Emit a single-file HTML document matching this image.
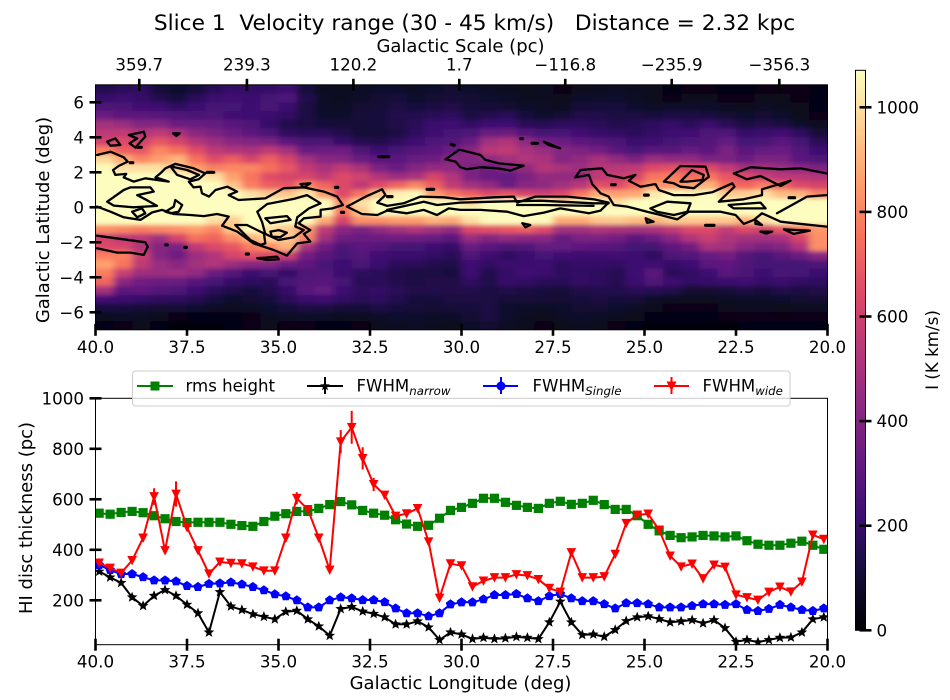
<!DOCTYPE html>
<html lang="en">
<head>
<meta charset="utf-8">
<title>Slice 1 HI chart</title>
<style>
html,body{margin:0;padding:0;background:#fff;}
svg{display:block;}
text{font-family:"DejaVu Sans","Liberation Sans",sans-serif;fill:#000;}
</style>
</head>
<body>
<svg id="chart" xmlns="http://www.w3.org/2000/svg" width="950" height="700" viewBox="0 0 950 700">
  <defs>
    <clipPath id="mapClip"><rect x="95.5" y="84.8" width="732" height="245"/></clipPath>
    <clipPath id="lineClip"><rect x="95.5" y="398.3" width="732" height="246.4"/></clipPath>
    <filter id="smooth" filterUnits="userSpaceOnUse" x="40" y="30" width="850" height="360"><feGaussianBlur stdDeviation="3.6 2.2"/></filter>
    <linearGradient id="cbarGrad" x1="0" y1="1" x2="0" y2="0">
      <stop offset="0" stop-color="#000004"/><stop offset="0.1" stop-color="#140e36"/><stop offset="0.2" stop-color="#3b0f70"/><stop offset="0.3" stop-color="#641a80"/><stop offset="0.4" stop-color="#8c2981"/><stop offset="0.5" stop-color="#b73779"/><stop offset="0.6" stop-color="#de4968"/><stop offset="0.7" stop-color="#f7705c"/><stop offset="0.8" stop-color="#fe9f6d"/><stop offset="0.9" stop-color="#fecf92"/><stop offset="1" stop-color="#fcfdbf"/>
    </linearGradient>
  </defs>
  <text x="474.5" y="30" text-anchor="middle" font-size="21.7" xml:space="preserve">Slice 1  Velocity range (30 - 45 km/s)   Distance = 2.32 kpc</text>
  <text x="460.5" y="52" text-anchor="middle" font-size="18">Galactic Scale (pc)</text>
  <g id="heat" clip-path="url(#mapClip)"><g id="heatCells" filter="url(#smooth)"></g></g>
  <g id="contours" clip-path="url(#mapClip)" fill="none" stroke="#000" stroke-width="2.3" stroke-linejoin="round" stroke-linecap="round"></g>
  <rect x="95.5" y="84.8" width="732" height="245" fill="none" stroke="#000" stroke-width="1"/>
  <g id="mapAxes"></g>
  <text transform="translate(49,220) rotate(-90)" text-anchor="middle" font-size="18">Galactic Latitude (deg)</text>

  <g id="series" clip-path="url(#lineClip)"></g>
  <rect x="95.5" y="398.3" width="732" height="246.4" fill="none" stroke="#000" stroke-width="1"/>
  <g id="lineAxes"></g>
  <text transform="translate(32,518) rotate(-90)" text-anchor="middle" font-size="18">HI disc thickness (pc)</text>
  <text x="460.5" y="689" text-anchor="middle" font-size="18">Galactic Longitude (deg)</text>

  <g>
    <rect x="132.5" y="371" width="657.5" height="35" rx="3" fill="#fff" fill-opacity="0.8" stroke="#ccc" stroke-width="1"/>
    <g>
      <line x1="137" x2="173" y1="386" y2="386" stroke="#008000" stroke-width="2"/>
      <rect x="150.5" y="381.5" width="9" height="9" fill="#008000"/>
      <text x="185.5" y="391.5" font-size="16.6">rms height</text>
    </g>
    <g>
      <line x1="307" x2="343" y1="386" y2="386" stroke="#000" stroke-width="2"/>
      <line x1="325" x2="325" y1="377" y2="394" stroke="#000" stroke-width="2"/>
      <path d="M325 381 L326.3 384.3 L330 384.5 L327 386.8 L328 390.3 L325 388.3 L322 390.3 L323 386.8 L320 384.5 L323.7 384.3 Z" fill="#000"/>
      <text x="356.5" y="391.5" font-size="16.6">FWHM<tspan font-size="11.8" font-style="italic" dy="3.5">narrow</tspan></text>
    </g>
    <g>
      <line x1="483" x2="518" y1="386" y2="386" stroke="#0000ff" stroke-width="2"/>
      <line x1="501" x2="501" y1="377" y2="394" stroke="#0000ff" stroke-width="2"/>
      <circle cx="501" cy="386" r="4.5" fill="#0000ff"/>
      <text x="532.5" y="391.5" font-size="16.6">FWHM<tspan font-size="11.8" font-style="italic" dy="3.5">Single</tspan></text>
    </g>
    <g>
      <line x1="654" x2="689" y1="386" y2="386" stroke="#ff0000" stroke-width="2"/>
      <line x1="671.5" x2="671.5" y1="377" y2="394" stroke="#ff0000" stroke-width="2"/>
      <path d="M666.5 381.5 L676.5 381.5 L671.5 391 Z" fill="#ff0000"/>
      <text x="702.5" y="391.5" font-size="16.6">FWHM<tspan font-size="11.8" font-style="italic" dy="3.5">wide</tspan></text>
    </g>
  </g>

  <rect x="855.5" y="70.3" width="10" height="560" fill="url(#cbarGrad)" stroke="#000" stroke-width="1"/>
  <g id="cbarAxis"></g>
  <text transform="translate(938,350) rotate(-90)" text-anchor="middle" font-size="16.7">I (K km/s)</text>
</svg>

<script>
// ---------- Line plot data ----------
const longitudes = [39.9,39.6,39.3,39.0,38.7,38.4,38.1,37.8,37.5,37.2,36.9,36.6,36.3,36.0,35.7,35.4,35.1,34.8,34.5,34.2,33.9,33.6,33.3,33.0,32.7,32.4,32.1,31.8,31.5,31.2,30.9,30.6,30.3,30.0,29.7,29.4,29.1,28.8,28.5,28.2,27.9,27.6,27.3,27.0,26.7,26.4,26.1,25.8,25.5,25.2,24.9,24.6,24.3,24.0,23.7,23.4,23.1,22.8,22.5,22.2,21.9,21.6,21.3,21.0,20.7,20.4,20.1];
const rmsHeight = [545,541,548,552,547,535,523,512,508,509,509,509,501,496,493,512,533,543,552,552,564,579,591,578,556,545,537,519,502,493,497,525,556,568,584,604,604,588,576,568,564,584,592,580,584,596,579,560,560,535,501,475,457,448,451,457,455,451,455,436,422,418,418,426,434,418,402];
const fwhmNarrow = [314,291,269,212,178,218,241,218,183,149,73,233,176,162,145,135,125,155,159,125,97,60,166,174,156,147,133,105,105,117,93,43,73,65,47,52,47,50,55,52,47,113,195,113,63,65,56,83,118,133,137,126,113,117,122,109,122,90,36,43,34,43,52,53,73,125,133];
const fwhmSingle = [340,320,304,304,292,279,279,275,257,253,265,267,271,263,253,240,224,216,200,172,172,200,212,208,201,201,193,168,149,149,137,149,184,192,192,204,221,221,225,208,197,217,225,208,197,197,185,168,189,189,185,172,172,172,178,185,185,182,185,162,158,166,182,172,162,158,168];
const fwhmWide = [348,328,308,358,447,611,397,621,489,397,305,352,347,345,333,317,317,447,604,560,447,320,828,885,762,659,617,534,543,564,432,209,345,337,254,277,290,290,302,298,283,248,233,389,290,290,294,383,505,538,542,479,376,333,344,286,340,332,222,211,201,233,253,234,273,459,442];
const fwhmWideError = [12,10,8,10,15,33,12,50,14,10,8,8,8,8,8,8,8,15,24,10,12,10,46,65,44,26,15,8,8,10,10,8,8,8,8,8,8,8,8,8,8,8,8,12,8,8,8,8,8,8,10,8,8,8,8,8,8,8,8,8,8,8,8,8,8,12,10];
const xTickValues = [40,37.5,35,32.5,30,27.5,25,22.5,20];
const xTickLabels = ["40.0","37.5","35.0","32.5","30.0","27.5","25.0","22.5","20.0"];
const thicknessTicks = [200,400,600,800,1000];
const latitudeTicks = [6,4,2,0,-2,-4,-6];
const latitudeLabels = ["6","4","2","0","\u22122","\u22124","\u22126"];
const scaleTicks = [359.7,239.3,120.2,1.7,-116.8,-235.9,-356.3];
const scaleLabels = ["359.7","239.3","120.2","1.7","\u2212116.8","\u2212235.9","\u2212356.3"];
const colorTicks = [0,200,400,600,800,1000];

// ---------- Heatmap data (K km/s), rows from b=+6.75 to b=-6.75, columns from l=39.75 to l=20.25 ----------
const Y = 1070;
const heatValues = [
[150,170,180,110,90,120,170,200,190,200,230,120,60,60,70,90,90,70,90,100,90,70,60,50,60,40,50,60,70,60,50,30,40,40,30,30,40,40,40,30],
[200,220,200,150,120,170,210,230,210,240,260,150,70,60,80,100,120,90,100,110,100,90,80,60,60,50,80,80,90,70,50,40,50,50,40,40,50,50,40,30],
[260,250,230,220,180,220,240,240,220,250,210,130,70,70,100,110,130,120,130,140,110,110,100,80,70,60,110,120,120,90,70,80,80,80,60,50,70,60,50,30],
[330,300,300,290,270,250,260,230,220,210,190,130,90,90,110,120,150,150,170,180,130,150,170,120,90,100,140,140,130,130,120,130,130,120,100,90,100,90,50,40],
[480,460,400,400,340,330,320,290,260,200,150,130,120,110,110,120,140,170,210,220,190,220,220,170,160,180,180,170,150,160,180,200,170,210,170,130,140,130,90,60],
[550,560,520,550,500,420,380,340,300,250,180,170,170,140,110,110,130,180,230,240,260,330,340,280,240,240,230,200,190,170,190,220,230,260,260,200,210,230,180,110],
[600,640,600,680,620,530,470,420,400,380,300,250,260,200,160,140,180,220,260,280,340,480,520,430,360,340,300,280,250,210,230,240,260,280,320,240,250,300,240,170],
[780,700,680,800,750,650,550,520,500,560,480,330,340,350,260,220,240,280,300,340,420,540,560,500,460,400,390,360,300,250,290,290,320,300,380,300,320,330,280,220],
[980,880,800,850,900,750,650,700,620,700,620,480,420,400,330,300,300,330,350,420,400,440,480,520,500,400,440,500,440,380,460,440,440,380,380,340,390,380,300,260],
[1060,1000,1000,1000,950,850,780,800,800,750,680,560,500,560,500,380,330,400,450,430,380,350,400,440,530,500,470,530,540,550,640,660,640,640,560,480,480,460,420,380],
[Y,Y,Y,Y,Y,1040,1000,860,760,650,620,620,560,640,600,520,460,500,620,520,380,340,320,380,450,440,440,560,580,620,760,780,740,760,680,640,580,540,540,520],
[Y,Y,Y,Y,Y,Y,Y,940,780,700,680,800,720,640,560,650,720,800,700,560,480,440,340,420,430,480,540,660,640,740,840,820,860,900,740,720,780,720,640,620],
[Y,Y,Y,Y,Y,Y,Y,Y,1000,950,950,1020,850,640,760,950,1040,1060,850,760,700,640,680,620,600,640,760,880,860,880,1020,Y,1040,Y,960,960,1000,920,900,800],
[Y,Y,Y,Y,Y,Y,Y,Y,Y,Y,Y,Y,Y,800,1000,Y,Y,Y,Y,Y,1000,Y,Y,Y,Y,1000,Y,Y,1000,Y,Y,Y,Y,Y,Y,Y,Y,Y,Y,Y],
[Y,Y,Y,Y,Y,Y,Y,Y,Y,Y,Y,Y,Y,750,950,Y,Y,Y,Y,Y,Y,Y,Y,Y,Y,Y,Y,Y,Y,Y,Y,Y,Y,Y,Y,Y,Y,Y,Y,Y],
[Y,Y,Y,Y,Y,Y,1000,960,Y,Y,Y,Y,880,620,820,820,850,850,900,880,1000,Y,Y,Y,Y,880,880,940,950,920,900,950,950,950,950,900,1000,Y,Y,Y],
[820,800,780,800,820,850,800,950,Y,1000,950,850,560,420,380,440,480,520,480,440,640,660,680,700,640,480,480,520,500,480,500,560,640,640,560,640,600,680,760,840],
[600,550,540,480,620,750,720,820,900,980,950,800,480,350,330,340,350,340,320,300,460,400,440,420,420,320,380,380,360,300,340,420,520,580,520,480,480,500,620,820],
[640,620,520,400,380,560,640,680,780,820,900,500,350,260,300,280,240,240,220,200,330,300,260,270,320,320,310,290,280,240,240,310,360,500,480,420,380,400,520,820],
[780,780,580,400,350,470,520,620,660,640,600,360,300,240,280,230,210,210,190,170,260,230,180,210,240,230,220,220,230,220,180,260,280,320,360,280,240,300,340,420],
[860,760,560,460,420,480,520,460,420,400,330,310,240,220,250,210,170,170,150,140,220,190,210,210,220,180,200,200,190,220,230,200,220,300,310,270,240,240,240,260],
[780,580,470,460,470,440,340,280,210,240,200,260,270,210,180,170,140,130,130,120,220,150,200,230,210,180,190,180,160,220,300,170,190,220,290,250,220,250,240,210],
[720,420,350,340,330,280,240,200,180,170,240,280,290,240,170,170,150,130,140,140,180,150,200,190,170,170,190,180,160,210,270,220,190,200,210,230,200,210,190,180],
[480,300,310,280,260,220,170,140,120,150,200,290,320,220,180,190,170,140,150,140,150,130,140,130,120,110,140,150,150,170,160,150,100,100,110,130,120,140,130,140],
[230,210,200,180,180,160,120,90,100,120,170,210,220,190,170,180,150,120,120,130,130,130,110,110,110,100,120,130,120,110,80,60,60,60,70,80,80,90,100,100],
[120,120,110,100,100,90,70,60,70,90,110,130,130,110,110,130,120,110,100,110,120,130,90,80,70,90,100,100,90,70,50,40,40,40,50,60,60,50,60,60],
[60,70,70,50,40,30,30,30,40,60,70,80,70,60,60,80,90,90,80,80,100,130,90,60,50,70,80,70,60,50,30,30,30,30,40,40,40,40,40,40],
[30,40,50,30,20,20,20,30,40,50,40,40,30,30,40,50,60,70,60,50,90,100,70,50,40,50,60,50,40,30,20,20,20,20,20,30,30,30,30,30]
];

// ---------- Contours, flat [lon,lat,...] lists ----------
const contourLines = [
[39.96,2.99,39.59,3.18,39.23,2.86,39.12,2.61,39.37,2.36,39.52,2.13,39.46,1.85,39.16,1.91,39.23,1.71,38.96,1.47,38.64,1.66,38.0,1.47,38.36,1.71,38.23,1.94,38.09,2.23,37.82,2.48,37.32,2.23,37.0,1.94,37.18,1.6,37.45,1.47,37.32,1.14,37.13,1.18,37.09,0.8,36.9,0.61,36.72,0.99,36.4,1.18,36.13,0.9,36.36,0.7,36.09,0.42,35.36,0.51,34.86,1.09,34.31,1.14,34.13,1.37,34.4,1.33,34.31,1.14,33.76,0.9,33.4,0.61,33.24,0.13,33.53,-0.06,33.85,-0.15,33.85,-0.53,34.31,-0.63,34.45,-0.91,34.13,-1.3,34.31,-1.52,34.13,-1.96,34.49,-2.06,34.77,-2.76,35.13,-2.44,35.68,-2.06,36.13,-1.39,36.54,-1.05,36.36,-0.53,36.68,-0.38,37.04,-0.5,37.41,-0.44,37.86,-0.38,38.18,-0.15,38.45,-0.29,38.77,-0.72,39.23,-0.57,39.59,-0.25,39.96,0.04],
[39.68,0.32,39.23,0.99,39.05,1.14,38.5,1.14,38.41,0.9,38.86,0.7,38.64,0.46,38.32,0.08,38.96,0,39.5,0.1,39.68,0.32],
[39.0,-0.25,38.73,-0.06,38.64,-0.34,38.86,-0.57,39.0,-0.25],
[37.95,2.34,37.5,2.13,37.17,1.85,37.41,1.6,37.77,1.85,37.95,2.34],
[38.09,-0.25,37.86,0.04,37.82,0.42,37.63,0.13,37.73,-0.25,37.95,-0.34,38.09,-0.25],
[39.96,-1.62,38.64,-2,38.57,-2.25,38.68,-2.72,39.05,-2.59,39.41,-2.59,39.96,-2.34],
[39.68,3.75,39.46,3.94,39.32,3.56,39.59,3.52,39.68,3.75],
[39.09,4.13,38.68,4.32,38.64,4.04,38.77,3.75,38.91,3.41,39.07,3.66,38.86,3.94,39.09,4.13],
[37.88,4.23,37.7,4.23,37.79,4.08,37.88,4.23],
[35.86,-1.01,35.4,-1.49,35.36,-2.06,35.49,-2.15,35.77,-1.87,35.95,-1.49,36.18,-1.01,35.86,-1.01],
[35.58,-0.25,35.31,0.19,34.58,0.48,34.22,0.7,33.85,0.23,34.17,-0.06,34.49,-0.57,34.54,-1.1,34.31,-1.3,34.58,-1.71,35.0,-1.87,35.36,-1.52,35.45,-0.82,35.58,-0.25],
[35.22,-1.39,34.99,-1.3,34.77,-1.45,34.95,-1.71,35.18,-1.68,35.22,-1.39],
[35.36,-0.63,34.77,-0.5,34.67,-0.72,35.22,-0.91,35.36,-0.63],
[35.58,-2.91,35.36,-2.88,35.04,-2.82,34.99,-2.97,35.31,-3.01,35.58,-2.91],
[33.13,0.04,32.58,0.65,32.17,1.03,32.08,0.7,32.3,0.27,32.03,0.08,31.58,0.23,31.12,0.61,30.48,0.57,30.03,0.46,29.12,0.57,28.57,0.61,28.48,0.27,27.98,0.61,27.11,0.61,26.39,0.46,25.98,0.27,26.2,-0.19,26.52,-0.34,27.3,-0.06,27.75,-0.3,28.3,-0.5,28.75,-0.25,29.48,-0.15,30.03,-0.15,30.35,-0.06,30.67,-0.44,31.03,-0.15,31.49,-0.34,32.03,-0.19,32.3,-0.44,32.72,-0.38,33.13,0.04],
[32.03,-0.15,31.03,0.32,30.67,0.13,30.03,0.27,29.12,0.32,27.84,0.38,26.39,0.23,25.98,0.23],
[28.48,0.13,27.75,0.13,26.39,0.08],
[30.03,3.28,29.48,2.99,29.35,2.71,28.98,2.51,28.3,2.38,28.66,2.1,29.03,2.23,29.48,2.29,29.85,2.17,30.03,2.29,30.16,2.61,30.44,2.74,30.07,3.28,30.03,3.28],
[20.03,1.94,20.74,2.23,21.28,2.17,22.1,2.29,22.56,1.94,22.2,1.6,21.83,1.79,21.28,1.22,21.01,1.52,21.79,1.03,21.79,0.7,22.29,0.46,22.97,0.32,22.54,1.18,22.6,1.37,23.15,0.86,23.65,0.7,24.2,0.7,24.61,0.99,24.7,1.33,25.11,1.18,25.43,1.52,25.25,1.85,25.57,1.66,26.02,1.85,26.16,2.23,26.75,2.13,26.89,1.71,26.52,1.85,26.43,1.33,26.2,0.8,25.98,0.61,25.84,0.13,25.47,0.04,24.93,-0.25,24.56,-0.44,24.11,-0.69,23.79,-0.25,22.92,-0.25,22.51,-0.44,22.29,-0.95,22.01,-0.72,21.79,-0.34,21.28,-0.82,20.92,-0.91,20.03,-1.1],
[24.47,1.47,24.02,2.36,23.33,2.32,23.24,1.75,23.65,1.09,24.02,1.18,24.2,1.37,24.47,1.47],
[24.02,1.47,23.7,2.13,23.38,1.85,23.42,1.56,23.83,1.47,24.02,1.47],
[24.84,-0.06,24.38,0.32,23.74,0.23,23.83,-0.25,24.2,-0.44,24.66,-0.25,24.84,-0.06],
[22.7,0.13,21.83,0.27,21.69,-0.06,22.56,-0.06,22.7,0.13],
[21.38,-0.34,20.92,0.19,20.56,0.61,20.03,0.7],
[21.19,-1.26,20.48,-1.33,20.92,-1.52,21.19,-1.26],
[21.83,-1.39,21.51,-1.39,21.67,-1.5,21.83,-1.39],
[28.34,-0.91,28.12,-1.01,28.25,-1.14,28.34,-0.91],
[24.97,-0.63,24.75,-0.82,24.93,-0.88,24.97,-0.63],
[27.75,3.75,27.3,3.37,27.62,3.56,27.75,3.75],
[21.97,-0.72,21.79,-1.01,21.97,-0.95,21.97,-0.72]
];
const contourBlobs = [
[32.26,2.9,31.99,2.9],[30.94,1.03,30.76,1.03],[33.44,1.14,33.38,1.14],[32.02,0.61,31.9,0.61],[36.95,2.0,36.77,2.0],[30.28,3.6,30.2,3.55],[33.28,-0.29,33.22,-0.29],[38.08,-2.15,38.04,-2.15],[37.56,-2.29,37.52,-2.29],[35.88,-2.67,35.82,-2.67],[28.38,3.92,28.34,3.92],[28.07,3.66,27.93,3.66],[23.33,-1.03,23.1,-1.03],[38.85,3.43,38.75,3.43],[39.05,2.55,38.98,2.55],[25.9,1.3,25.8,1.3],[25.0,0.7,24.9,0.7],[21.05,0.55,20.9,0.55]
];

// ---------- Scales ----------
function xLon(l){ return 95.5 + (40 - l) * 36.6; }
function yLat(b){ return 207.3 - b * 17.5; }
function yVal(v){ return 398.3 + (1000 - v) * 0.2525; }
function xPc(p){ return 139.3 + (359.7 - p) * 0.8939; }
function yCbar(v){ return 630.3 - v * 0.523; }

const NS = 'http://www.w3.org/2000/svg';
function mk(tag, parent, attrs){
  const e = document.createElementNS(NS, tag);
  for (const k in attrs) e.setAttribute(k, attrs[k]);
  parent.appendChild(e);
  return e;
}
const magma = [[0,0,0,4],[.1,20,14,54],[.2,59,15,112],[.3,100,26,128],[.4,140,41,129],[.5,183,55,121],[.6,222,73,104],[.7,247,112,92],[.8,254,159,109],[.9,254,207,146],[1,252,253,191]];
function heatColor(v){
  const t = Math.max(0, Math.min(1, v / 1070));
  for (let i = 1; i < magma.length; i++){
    if (t <= magma[i][0]){
      const a = magma[i-1], b = magma[i], f = (t - a[0]) / (b[0] - a[0]);
      return 'rgb(' + [1,2,3].map(function(c){ return Math.round(a[c] + (b[c] - a[c]) * f); }).join(',') + ')';
    }
  }
  return 'rgb(252,253,191)';
}

// ---------- Heatmap ----------
const heatCells = document.getElementById('heatCells');
heatValues.forEach(function(row, r){
  row.forEach(function(v, c){
    const lonLeft = 40 - c * 0.5, latTop = 7 - r * 0.5;
    let x0 = xLon(lonLeft), x1 = xLon(lonLeft - 0.5), y0 = yLat(latTop), y1 = yLat(latTop - 0.5);
    if (c === 0) x0 -= 25;
    if (c === row.length - 1) x1 += 25;
    if (r === 0) y0 -= 25;
    if (r === heatValues.length - 1) y1 += 25;
    const cell = mk('rect', heatCells, {x:x0, y:y0, width:x1 - x0 + 0.5, height:y1 - y0 + 0.5, fill:heatColor(v)});
    
    
  });
});

// ---------- Contours ----------
const contourGroup = document.getElementById('contours');
contourLines.forEach(function(pts){
  let d = '';
  for (let i = 0; i < pts.length; i += 2) d += (i ? 'L' : 'M') + xLon(pts[i]).toFixed(1) + ' ' + yLat(pts[i+1]).toFixed(1);
  const p = mk('path', contourGroup, {d:d});
  
  
});
contourBlobs.forEach(function(b){
  const p = mk('path', contourGroup, {d:'M' + xLon(b[0]).toFixed(1) + ' ' + yLat(b[1]).toFixed(1) + 'L' + xLon(b[2]).toFixed(1) + ' ' + yLat(b[3]).toFixed(1), 'stroke-width':3.2});
  
  
});

// ---------- Axes ----------
function tick(parent, x1, y1, x2, y2, name){
  const t = mk('line', parent, {x1:x1, y1:y1, x2:x2, y2:y2, stroke:'#000', 'stroke-width':2.6});
  
  
}
function label(parent, x, y, str, anchor, name){
  const t = mk('text', parent, {x:x, y:y, 'font-size':16.7, 'text-anchor':anchor});
  t.textContent = str;
  
  
}
const mapAxes = document.getElementById('mapAxes');
const lineAxes = document.getElementById('lineAxes');
const cbarAxis = document.getElementById('cbarAxis');
xTickValues.forEach(function(v, i){
  const x = xLon(v);
  tick(mapAxes, x, 323.8, x, 335.8, 'map-x-tick');
  label(mapAxes, x, 353, xTickLabels[i], 'middle', 'map-x-tick-label');
  tick(lineAxes, x, 638.7, x, 650.7, 'x-tick');
  label(lineAxes, x, 667.5, xTickLabels[i], 'middle', 'x-tick-label');
});
latitudeTicks.forEach(function(v, i){
  const y = yLat(v);
  tick(mapAxes, 89.5, y, 101.5, y, 'map-y-tick');
  label(mapAxes, 84, y + 6, latitudeLabels[i], 'end', 'map-y-tick-label');
});
scaleTicks.forEach(function(v, i){
  const x = xPc(v);
  tick(mapAxes, x, 78.8, x, 90.8, 'scale-tick');
  label(mapAxes, x, 70.5, scaleLabels[i], 'middle', 'scale-tick-label');
});
thicknessTicks.forEach(function(v){
  const y = yVal(v);
  tick(lineAxes, 89.5, y, 101.5, y, 'y-tick');
  label(lineAxes, 84, y + 6, String(v), 'end', 'y-tick-label');
});
colorTicks.forEach(function(v){
  const y = yCbar(v);
  tick(cbarAxis, 859.5, y, 871.5, y, 'colorbar-tick');
  label(cbarAxis, 876.5, y + 6, String(v), 'start', 'colorbar-tick-label');
});

// ---------- Series ----------
const seriesGroup = document.getElementById('series');
function polyline(values, color, name){
  const pts = values.map(function(v, i){ return xLon(longitudes[i]).toFixed(1) + ',' + yVal(v).toFixed(1); }).join(' ');
  const l = mk('polyline', seriesGroup, {points:pts, fill:'none', stroke:color, 'stroke-width':2, 'stroke-linejoin':'round'});
  
  
}
function regular(cx, cy, r, n, start){
  const p = [];
  for (let i = 0; i < n; i++){
    const a = start + i * 2 * Math.PI / n;
    p.push((cx + r * Math.cos(a)).toFixed(1) + ',' + (cy + r * Math.sin(a)).toFixed(1));
  }
  return p.join(' ');
}
function starPts(cx, cy, R, r){
  const p = [];
  for (let i = 0; i < 10; i++){
    const a = -Math.PI / 2 + i * Math.PI / 5, q = i % 2 ? r : R;
    p.push((cx + q * Math.cos(a)).toFixed(1) + ',' + (cy + q * Math.sin(a)).toFixed(1));
  }
  return p.join(' ');
}
polyline(rmsHeight, '#008000', 'rms-height-line');
rmsHeight.forEach(function(v, i){
  const cx = xLon(longitudes[i]), cy = yVal(v);
  const m = mk('rect', seriesGroup, {x:cx - 4.6, y:cy - 4.6, width:9.2, height:9.2, fill:'#008000'});
  
  
});
polyline(fwhmNarrow, '#000', 'fwhm-narrow-line');
fwhmNarrow.forEach(function(v, i){
  const cx = xLon(longitudes[i]), cy = yVal(v);
  const m = mk('polygon', seriesGroup, {points:starPts(cx, cy, 5.6, 2.4), fill:'#000'});
  
  
});
polyline(fwhmSingle, '#0000ff', 'fwhm-single-line');
fwhmSingle.forEach(function(v, i){
  const cx = xLon(longitudes[i]), cy = yVal(v);
  const m = mk('polygon', seriesGroup, {points:regular(cx, cy, 5, 5, -Math.PI / 2), fill:'#0000ff'});
  
  
});
polyline(fwhmWide, '#ff0000', 'fwhm-wide-line');
fwhmWide.forEach(function(v, i){
  const cx = xLon(longitudes[i]), cy = yVal(v), e = fwhmWideError[i];
  const bar = mk('line', seriesGroup, {x1:cx, x2:cx, y1:yVal(v + e), y2:yVal(v - e), stroke:'#ff0000', 'stroke-width':2});
  
  
  const m = mk('polygon', seriesGroup, {points:(cx - 4.8) + ',' + (cy - 4.4) + ' ' + (cx + 4.8) + ',' + (cy - 4.4) + ' ' + cx + ',' + (cy + 5), fill:'#ff0000'});
  
  
});
</script>
</body>
</html>
